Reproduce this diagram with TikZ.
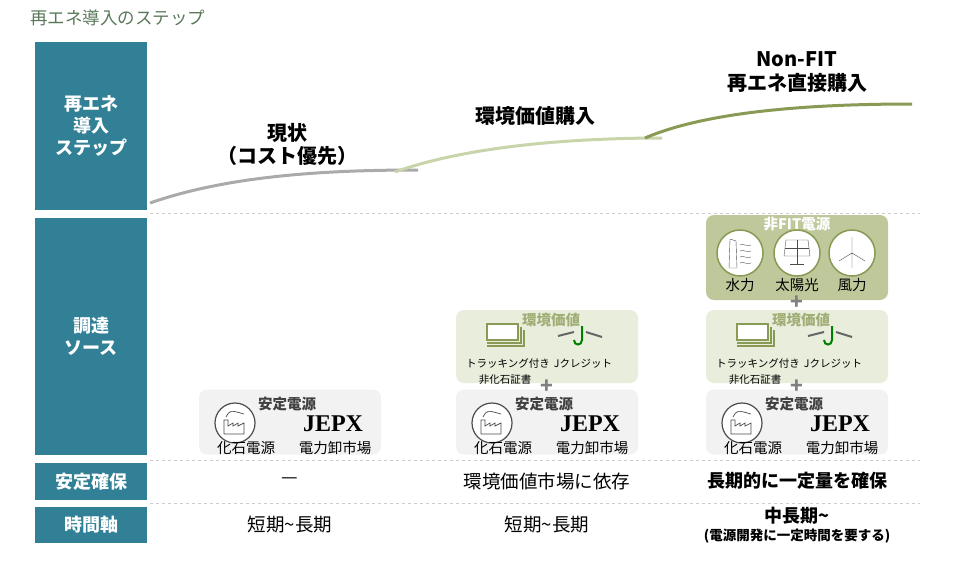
\documentclass[tikz,border=0pt]{standalone}
\usepackage{fontspec}
\setmainfont{Noto Sans CJK JP}
\newfontfamily\jepxfont{Liberation Serif}
\usetikzlibrary{positioning}
\definecolor{teal}{RGB}{49,128,150}
\definecolor{olive}{RGB}{136,154,84}
\definecolor{olivebox}{RGB}{190,200,155}
\definecolor{lightgreen}{RGB}{232,237,220}
\definecolor{lightgray}{RGB}{242,242,242}
\definecolor{curvegray}{RGB}{170,170,170}
\definecolor{curvegreen}{RGB}{200,212,170}
\definecolor{titlegreen}{RGB}{90,120,90}
\tikzset{
  rowbox/.style={fill=teal, text=white, font=\bfseries\fontsize{18}{22}\selectfont, align=center, inner sep=0pt},
  srcbox/.style={rounded corners=8pt, inner sep=0pt},
  sep/.style={gray!40, dashed, line width=0.8pt},
  lbl/.style={font=\fontsize{14.5}{16}\selectfont, align=center, inner sep=1pt},
  small/.style={font=\fontsize{10.5}{12}\selectfont, align=center, inner sep=1pt},
  hdr/.style={font=\bfseries\fontsize{14.5}{16}\selectfont, inner sep=1pt},
  icon/.style={circle, draw=olive, line width=1.5pt, fill=white, minimum size=46pt, inner sep=0pt},
  fossil/.style={circle, draw=black!70, line width=1.2pt, fill=white, minimum size=40pt, inner sep=0pt},
  plus/.style={font=\bfseries\fontsize{21}{21}\selectfont, text=gray, inner sep=0pt},
  txt/.style={font=\fontsize{18.5}{21}\selectfont, align=center}
}
\begin{document}
\begin{tikzpicture}[x=1pt, y=-1pt]
\useasboundingbox (0,0) rectangle (960,566);
\node[anchor=west, text=titlegreen, font=\fontsize{17.5}{19}\selectfont, inner sep=0pt] (title) at (30,18) {再エネ導入のステップ};
% left column
\node[rowbox, minimum width=112pt, minimum height=168pt] (r1) at (91,126) {再エネ\\導入\\ステップ};
\node[rowbox, minimum width=112pt, minimum height=237pt] (r2) at (91,336.5) {調達\\ソース};
\node[rowbox, minimum width=112pt, minimum height=37pt] (r3) at (91,481.5) {安定確保};
\node[rowbox, minimum width=112pt, minimum height=36pt] (r4) at (91,525) {時間軸};
% separators
\draw[sep] (150,213) -- (920,213);
\draw[sep] (150,460) -- (920,460);
\draw[sep] (150,503) -- (920,503);
% curves
\draw[curvegray, line width=3pt] (150,203) .. controls (230,175) and (330,170) .. (418,170);
\draw[curvegreen, line width=3pt] (395,172) .. controls (470,145) and (580,138) .. (662,138);
\draw[olive, line width=3pt] (645,138) .. controls (710,110) and (820,104) .. (912,104);
\node[font=\bfseries\fontsize{20}{23}\selectfont, align=center] (s1) at (287,144) {現状\\（コスト優先）};
\node[font=\bfseries\fontsize{20}{23}\selectfont] (s2) at (535,116) {環境価値購入};
\node[font=\bfseries\fontsize{20}{24}\selectfont, align=center] (s3) at (797,72) {Non-FIT\\再エネ直接購入};
% stable power boxes
\foreach \n/\cx in {a/290,b/547,c/797}{
  \node[srcbox, fill=lightgray, minimum width=182pt, minimum height=65pt] (stab\n) at (\cx,422) {};
  \node[hdr, text=black!75] at (\cx-3,404) {安定電源};
  \node[fossil] (fos\n) at (\cx-55,423) {};
  \draw[black!70, line width=0.7pt] (\cx-66,434) -- (\cx-66,420) -- (\cx-62,420) -- (\cx-62,426) -- (\cx-57,423) -- (\cx-57,426) -- (\cx-52,423) -- (\cx-52,426) -- (\cx-46,423) -- (\cx-46,434) -- cycle;
  \draw[black!70, line width=0.7pt] (\cx-64,417) .. controls (\cx-60,410) .. (\cx-46,414);
  \node[lbl] at (\cx-44,448) {化石電源};
  \node[font=\jepxfont\bfseries\fontsize{24}{24}\selectfont, inner sep=0pt] (jepx\n) at (\cx+43,424) {JEPX};
  \node[lbl] at (\cx+45,448) {電力卸市場};
}
% environmental value boxes
\foreach \n/\cx in {b/547,c/797}{
  \node[srcbox, fill=lightgreen, minimum width=182pt, minimum height=73pt] (env\n) at (\cx,346.5) {};
  \node[hdr, text=olive!80] at (\cx+4,320) {環境価値};
  \draw[olive, line width=1.4pt, fill=white] (\cx-60,324) rectangle (\cx-29,340);
  \draw[olive, line width=1.2pt] (\cx-60,343) -- (\cx-26,343) -- (\cx-26,327);
  \draw[olive, line width=1.2pt] (\cx-60,346) -- (\cx-23,346) -- (\cx-23,330);
  \draw[green!50!black, line width=2pt] (\cx+35,326) -- (\cx+35,340) .. controls (\cx+35,346) and (\cx+27,346) .. (\cx+27,340);
  \draw[black!60, line width=2pt] (\cx+11,336) -- (\cx+27,332);
  \draw[black!60, line width=2pt] (\cx+39,332) -- (\cx+55,337);
  \node[small] at (\cx-39,364) {トラッキング付き};
  \node[small] at (\cx+36,364) {Jクレジット};
  \node[small] at (\cx-42,380) {非化石証書};
  \node[plus] at (\cx,387) {+};
}
% non-FIT box
\node[srcbox, fill=olivebox, minimum width=182pt, minimum height=85pt] (nonfit) at (797,257.5) {};
\node[hdr, text=white] at (797,224) {非FIT電源};
\node[icon] (hydro) at (740,253) {};
\node[icon] (solar) at (797,253) {};
\node[icon] (wind) at (852,253) {};
\draw[black!70] (730,239) -- (736,241) -- (737,268) -- (729,268) -- cycle;
\foreach \yy in {245,251,257,263}{
  \draw[black!70] (740,\yy) .. controls (743,\yy-2) and (747,\yy+2) .. (751,\yy);
}
\draw[black!70] (786,240) -- (808,240) -- (810,256) -- (784,256) -- cycle;
\draw[black!70] (797,240) -- (797,256) (785,248) -- (809,248);
\draw[black!70] (797,256) -- (797,264) (790,264) -- (804,264);
\draw[black!70] (852,253) -- (852,268) (852,253) -- (852,237) (852,253) -- (839,261) (852,253) -- (865,261);
\node[lbl] at (740,285) {水力};
\node[lbl] at (797,285) {太陽光};
\node[lbl] at (852,285) {風力};
\node[plus] at (797,303) {+};
% rows 3 and 4
\node[txt] (k1) at (290,481) {—};
\node[txt] (k2) at (547,481) {環境価値市場に依存};
\node[txt, font=\bfseries\fontsize{18}{21}\selectfont] (k3) at (797,481) {長期的に一定量を確保};
\node[txt] (t1) at (290,525) {短期\textasciitilde 長期};
\node[txt] (t2) at (547,525) {短期\textasciitilde 長期};
\node[txt, font=\bfseries\fontsize{18}{21}\selectfont] (t3) at (797,516) {中長期\textasciitilde};
\node[font=\bfseries\fontsize{13.5}{15}\selectfont] (t3b) at (797,536) {(電源開発に一定時間を要する)};
\end{tikzpicture}
\end{document}
